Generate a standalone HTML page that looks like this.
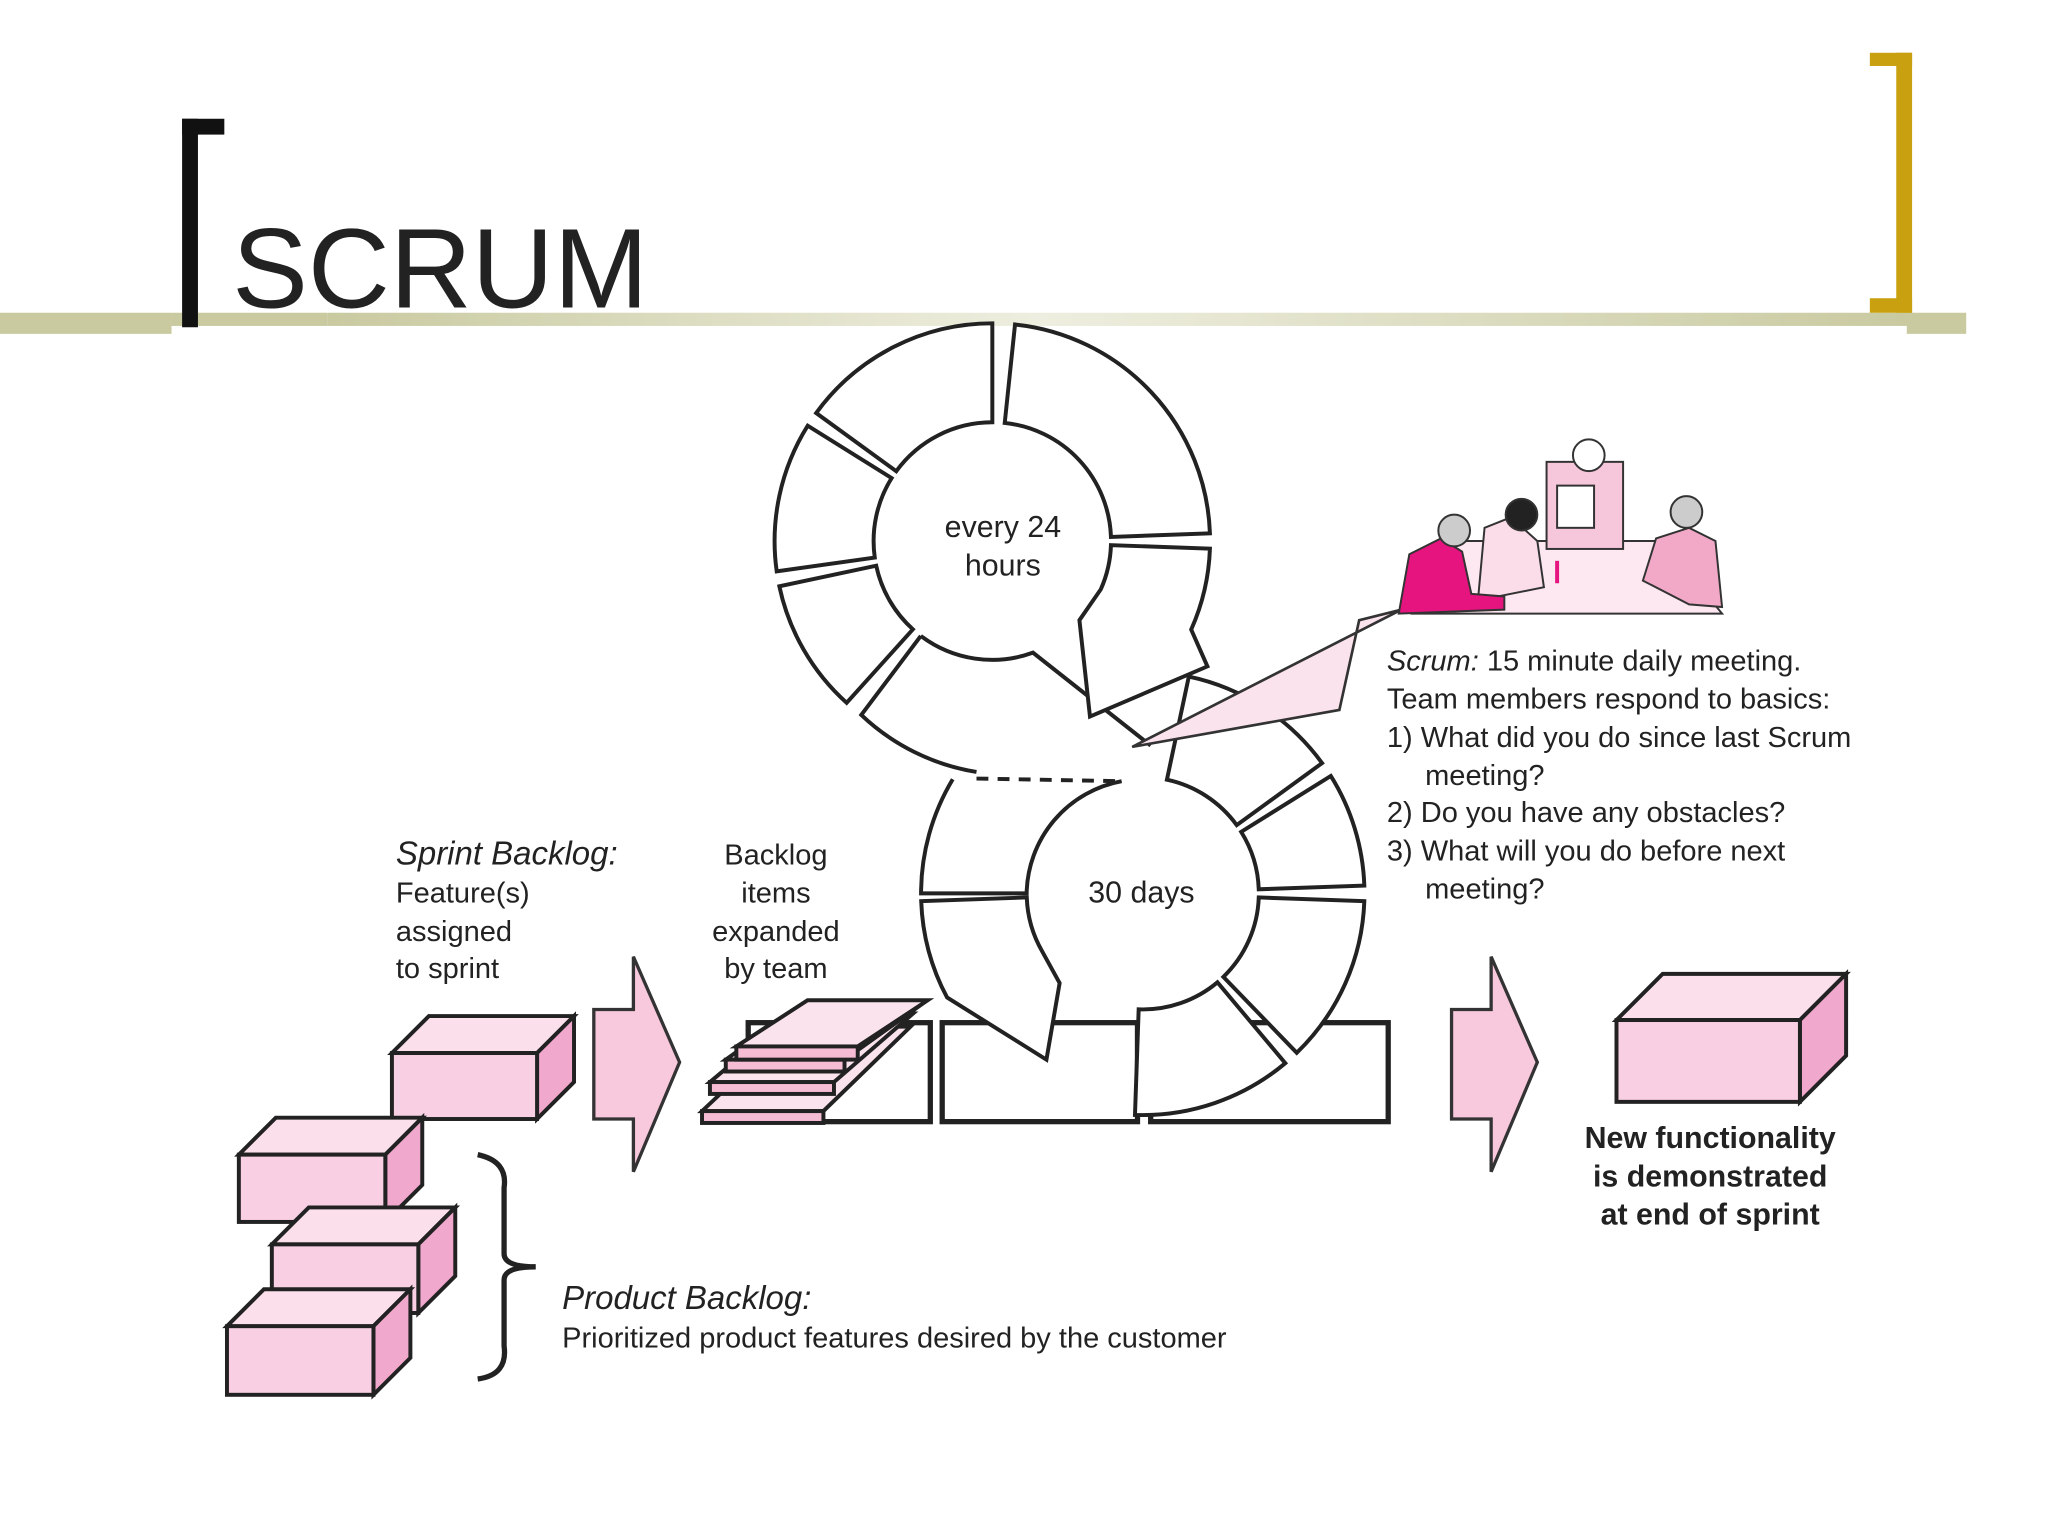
<!DOCTYPE html>
<html><head><meta charset="utf-8"><style>
html,body{margin:0;padding:0;background:#fff;width:2048px;height:1536px;overflow:hidden}
svg{display:block}
text{font-family:"Liberation Sans",sans-serif;fill:#222}
</style></head><body>
<svg id="s" width="2048" height="1536" viewBox="0 0 1552 1164" xmlns="http://www.w3.org/2000/svg">
<defs>
<linearGradient id="bar" x1="0" x2="1" y1="0" y2="0">
<stop offset="0" stop-color="#c9caa0"/><stop offset="0.45" stop-color="#eeeee0"/><stop offset="1" stop-color="#c9caa0"/>
</linearGradient>
</defs>
<rect x="0" y="237" width="130" height="16" fill="#c9caa0"/>
<rect x="130" y="237" width="118" height="10" fill="#c9caa0"/>
<rect x="248" y="237" width="1200" height="10" fill="url(#bar)"/>
<rect x="1445" y="237" width="45" height="16" fill="#c9caa0"/>
<rect x="138" y="90" width="12" height="158" fill="#111"/>
<rect x="138" y="90" width="32" height="12" fill="#111"/>
<rect x="1437" y="40" width="12" height="197" fill="#c9a010"/>
<rect x="1417" y="40" width="32" height="10" fill="#c9a010"/>
<rect x="1417" y="226" width="32" height="11" fill="#c9a010"/>
<text x="176" y="233" font-size="86">SCRUM</text>

<g id="boxes" fill="#fff" stroke="#222" stroke-width="4">
<rect x="567" y="775" width="138" height="75"/>
<rect x="714" y="775" width="148" height="75"/>
<rect x="872" y="775" width="180" height="75"/>
</g>
<g id="rings" fill="#fff" stroke="#222" stroke-width="3" stroke-linejoin="miter"></g>
<line x1="740" y1="590" x2="850" y2="592" stroke="#222" stroke-width="3" stroke-dasharray="9,7"/>
<text x="760" y="407" font-size="23" text-anchor="middle">every 24</text>
<text x="760" y="436" font-size="23" text-anchor="middle">hours</text>
<text x="865" y="684" font-size="23" text-anchor="middle">30 days</text>

<!-- callout -->
<polygon points="858,566 1062,462 1030,470 1015,538" fill="#fbe3ee" stroke="#333" stroke-width="2"/>
<!-- people -->
<g stroke="#333" stroke-width="1.5">
<polygon points="1070,465 1305,465 1260,410 1100,410" fill="#fde8f1"/>
<rect x="1172" y="350" width="58" height="66" fill="#f6c6da"/>
<circle cx="1204" cy="345" r="12" fill="#fff"/>
<rect x="1180" y="368" width="28" height="32" fill="#fff"/>
<path d="M1120,455 L1125,400 L1145,392 L1165,410 L1170,445 Z" fill="#fbdde9"/>
<circle cx="1153" cy="390" r="12" fill="#222"/>
<path d="M1060,465 L1068,420 L1092,408 L1108,418 L1115,450 L1140,452 L1140,462 Z" fill="#e5147f"/>
<circle cx="1102" cy="402" r="12" fill="#ccc"/>
<path d="M1245,440 L1255,408 L1280,400 L1300,410 L1305,460 L1280,458 Z" fill="#f2a9c8"/>
<circle cx="1278" cy="388" r="12" fill="#ccc"/>
<line x1="1180" y1="425" x2="1180" y2="442" stroke="#e5147f" stroke-width="3"/>
</g>

<g font-size="22">
<text x="1051" y="508"><tspan font-style="italic">Scrum:</tspan> 15 minute daily meeting.</text>
<text x="1051" y="537">Team members respond to basics:</text>
<text x="1051" y="566">1) What did you do since last Scrum</text>
<text x="1080" y="595">meeting?</text>
<text x="1051" y="623">2) Do you have any obstacles?</text>
<text x="1051" y="652">3) What will you do before next</text>
<text x="1080" y="681">meeting?</text>
</g>
<g font-size="22">
<text x="300" y="655" font-style="italic" font-size="25">Sprint Backlog:</text>
<text x="300" y="684">Feature(s)</text>
<text x="300" y="713">assigned</text>
<text x="300" y="741">to sprint</text>
<text x="588" y="655" text-anchor="middle">Backlog</text>
<text x="588" y="684" text-anchor="middle">items</text>
<text x="588" y="713" text-anchor="middle">expanded</text>
<text x="588" y="741" text-anchor="middle">by team</text>
<text x="426" y="992" font-style="italic" font-size="25">Product Backlog:</text>
<text x="426" y="1021">Prioritized product features desired by the customer</text>
</g>
<g font-size="23" font-weight="bold" text-anchor="middle">
<text x="1296" y="870">New functionality</text>
<text x="1296" y="899">is demonstrated</text>
<text x="1296" y="928">at end of sprint</text>
</g>

<!-- pink arrows -->
<g fill="#f8c8dd" stroke="#333" stroke-width="2.5">
<polygon points="450,765 480,765 480,725 515,805 480,888 480,848 450,848"/>
<polygon points="1100,765 1130,765 1130,725 1165,805 1130,888 1130,848 1100,848"/>
</g>
<!-- sheets -->
<g stroke="#222" stroke-width="3" fill="#fbe3ee">
<polygon points="532,842 624,842 690,778 600,778"/>
<rect x="532" y="842" width="92" height="9" fill="#f5bcd4"/>
<polygon points="538,820 632,820 692,768 600,768"/>
<rect x="538" y="820" width="94" height="9" fill="#f5bcd4"/>
<polygon points="550,803 640,803 700,760 610,760"/>
<rect x="550" y="803" width="90" height="9" fill="#f5bcd4"/>
<polygon points="558,793 650,793 703,758 612,758"/>
<rect x="558" y="793" width="92" height="10" fill="#f5bcd4"/>
</g>
<g id="pboxes" stroke="#222" stroke-width="3"></g>
<!-- brace -->
<path d="M362,875 Q385,880 382,900 L382,950 Q382,960 406,960 Q382,960 382,970 L382,1020 Q385,1042 362,1045" fill="none" stroke="#222" stroke-width="4"/>
</svg>
<script>
function P(cx,cy,r,a){a=a*Math.PI/180;return (cx+r*Math.cos(a)).toFixed(1)+","+(cy+r*Math.sin(a)).toFixed(1);}
function seg(cx,cy,R,r,a1,a2){var l=(a2-a1)>180?1:0;
return "M"+P(cx,cy,R,a1)+" A"+R+","+R+" 0 "+l+" 1 "+P(cx,cy,R,a2)+" L"+P(cx,cy,r,a2)+" A"+r+","+r+" 0 "+l+" 0 "+P(cx,cy,r,a1)+" Z";}
var g=document.getElementById("rings"),NS="http://www.w3.org/2000/svg";
function add(d,fillOnly){var p=document.createElementNS(NS,"path");p.setAttribute("d",d);if(fillOnly)p.setAttribute("stroke","none");g.appendChild(p);}
// lower circle first
add(seg(866,677,168,88,-78,-36));
add(seg(866,677,168,88,-32,-2));
add(seg(866,677,168,88,2,46));
add(seg(866,677,168,88,50,92));
// lower upper-left segment with open (dashed) top
var ulFill="M"+P(866,677,168,180)+" A168,168 0 0 1 "+P(866,677,168,211)+" L850,592 A88,88 0 0 0 "+P(866,677,88,180)+" Z";
add(ulFill,true);
add("M"+P(866,677,168,211)+" A168,168 0 0 0 "+P(866,677,168,180)+" L"+P(866,677,88,180)+" A88,88 0 0 1 850,592");
var last=g.lastChild;last.setAttribute("fill","none");
// lower arrow
add("M"+P(866,677,168,178)+" A168,168 0 0 0 "+P(866,677,168,152)+" L793,803 L803,745 L"+P(866,677,88,150)+" A88,88 0 0 1 "+P(866,677,88,178)+" Z");
// top circle
add(seg(752,410,165,90,-84,-2));
add(seg(752,410,165,90,-144,-90));
add(seg(752,410,165,90,172,212));
add(seg(752,410,165,90,132,168));
// bottom segment of top circle flowing into lower circle
add("M"+P(752,410,165,127)+" A165,165 0 0 0 740,585 L850,590 L872,565 L"+P(752,410,90,70)+" A90,90 0 0 1 "+P(752,410,90,127)+" Z",true);
add("M"+P(752,410,90,127)+" L"+P(752,410,165,127)+" A165,165 0 0 0 740,585");
g.lastChild.setAttribute("fill","none");
add("M872,565 L"+P(752,410,90,70)+" A90,90 0 0 1 "+P(752,410,90,127));
g.lastChild.setAttribute("fill","none");
// top arrow
add("M"+P(752,410,165,2)+" A165,165 0 0 1 "+P(752,410,165,24)+" L915,505 L826,543 L818,470 L"+P(752,410,90,24)+" A90,90 0 0 0 "+P(752,410,90,2)+" Z");
var b=document.getElementById("pboxes");
function box(x,y,w,h,d){
 var s='<polygon fill="#fbe0ec" points="'+x+','+y+' '+(x+d)+','+(y-d)+' '+(x+w+d)+','+(y-d)+' '+(x+w)+','+y+'"/>'+
 '<polygon fill="#f0a8cc" points="'+(x+w)+','+y+' '+(x+w+d)+','+(y-d)+' '+(x+w+d)+','+(y+h-d)+' '+(x+w)+','+(y+h)+'"/>'+
 '<rect fill="#f9d0e3" x="'+x+'" y="'+y+'" width="'+w+'" height="'+h+'"/>';
 b.insertAdjacentHTML("beforeend",s);}
box(297,798,110,50,28);
box(181,875,111,51,28);
box(206,943,111,52,28);
box(172,1005,111,52,28);
box(1225,773,139,62,35);
</script>
</body></html>
